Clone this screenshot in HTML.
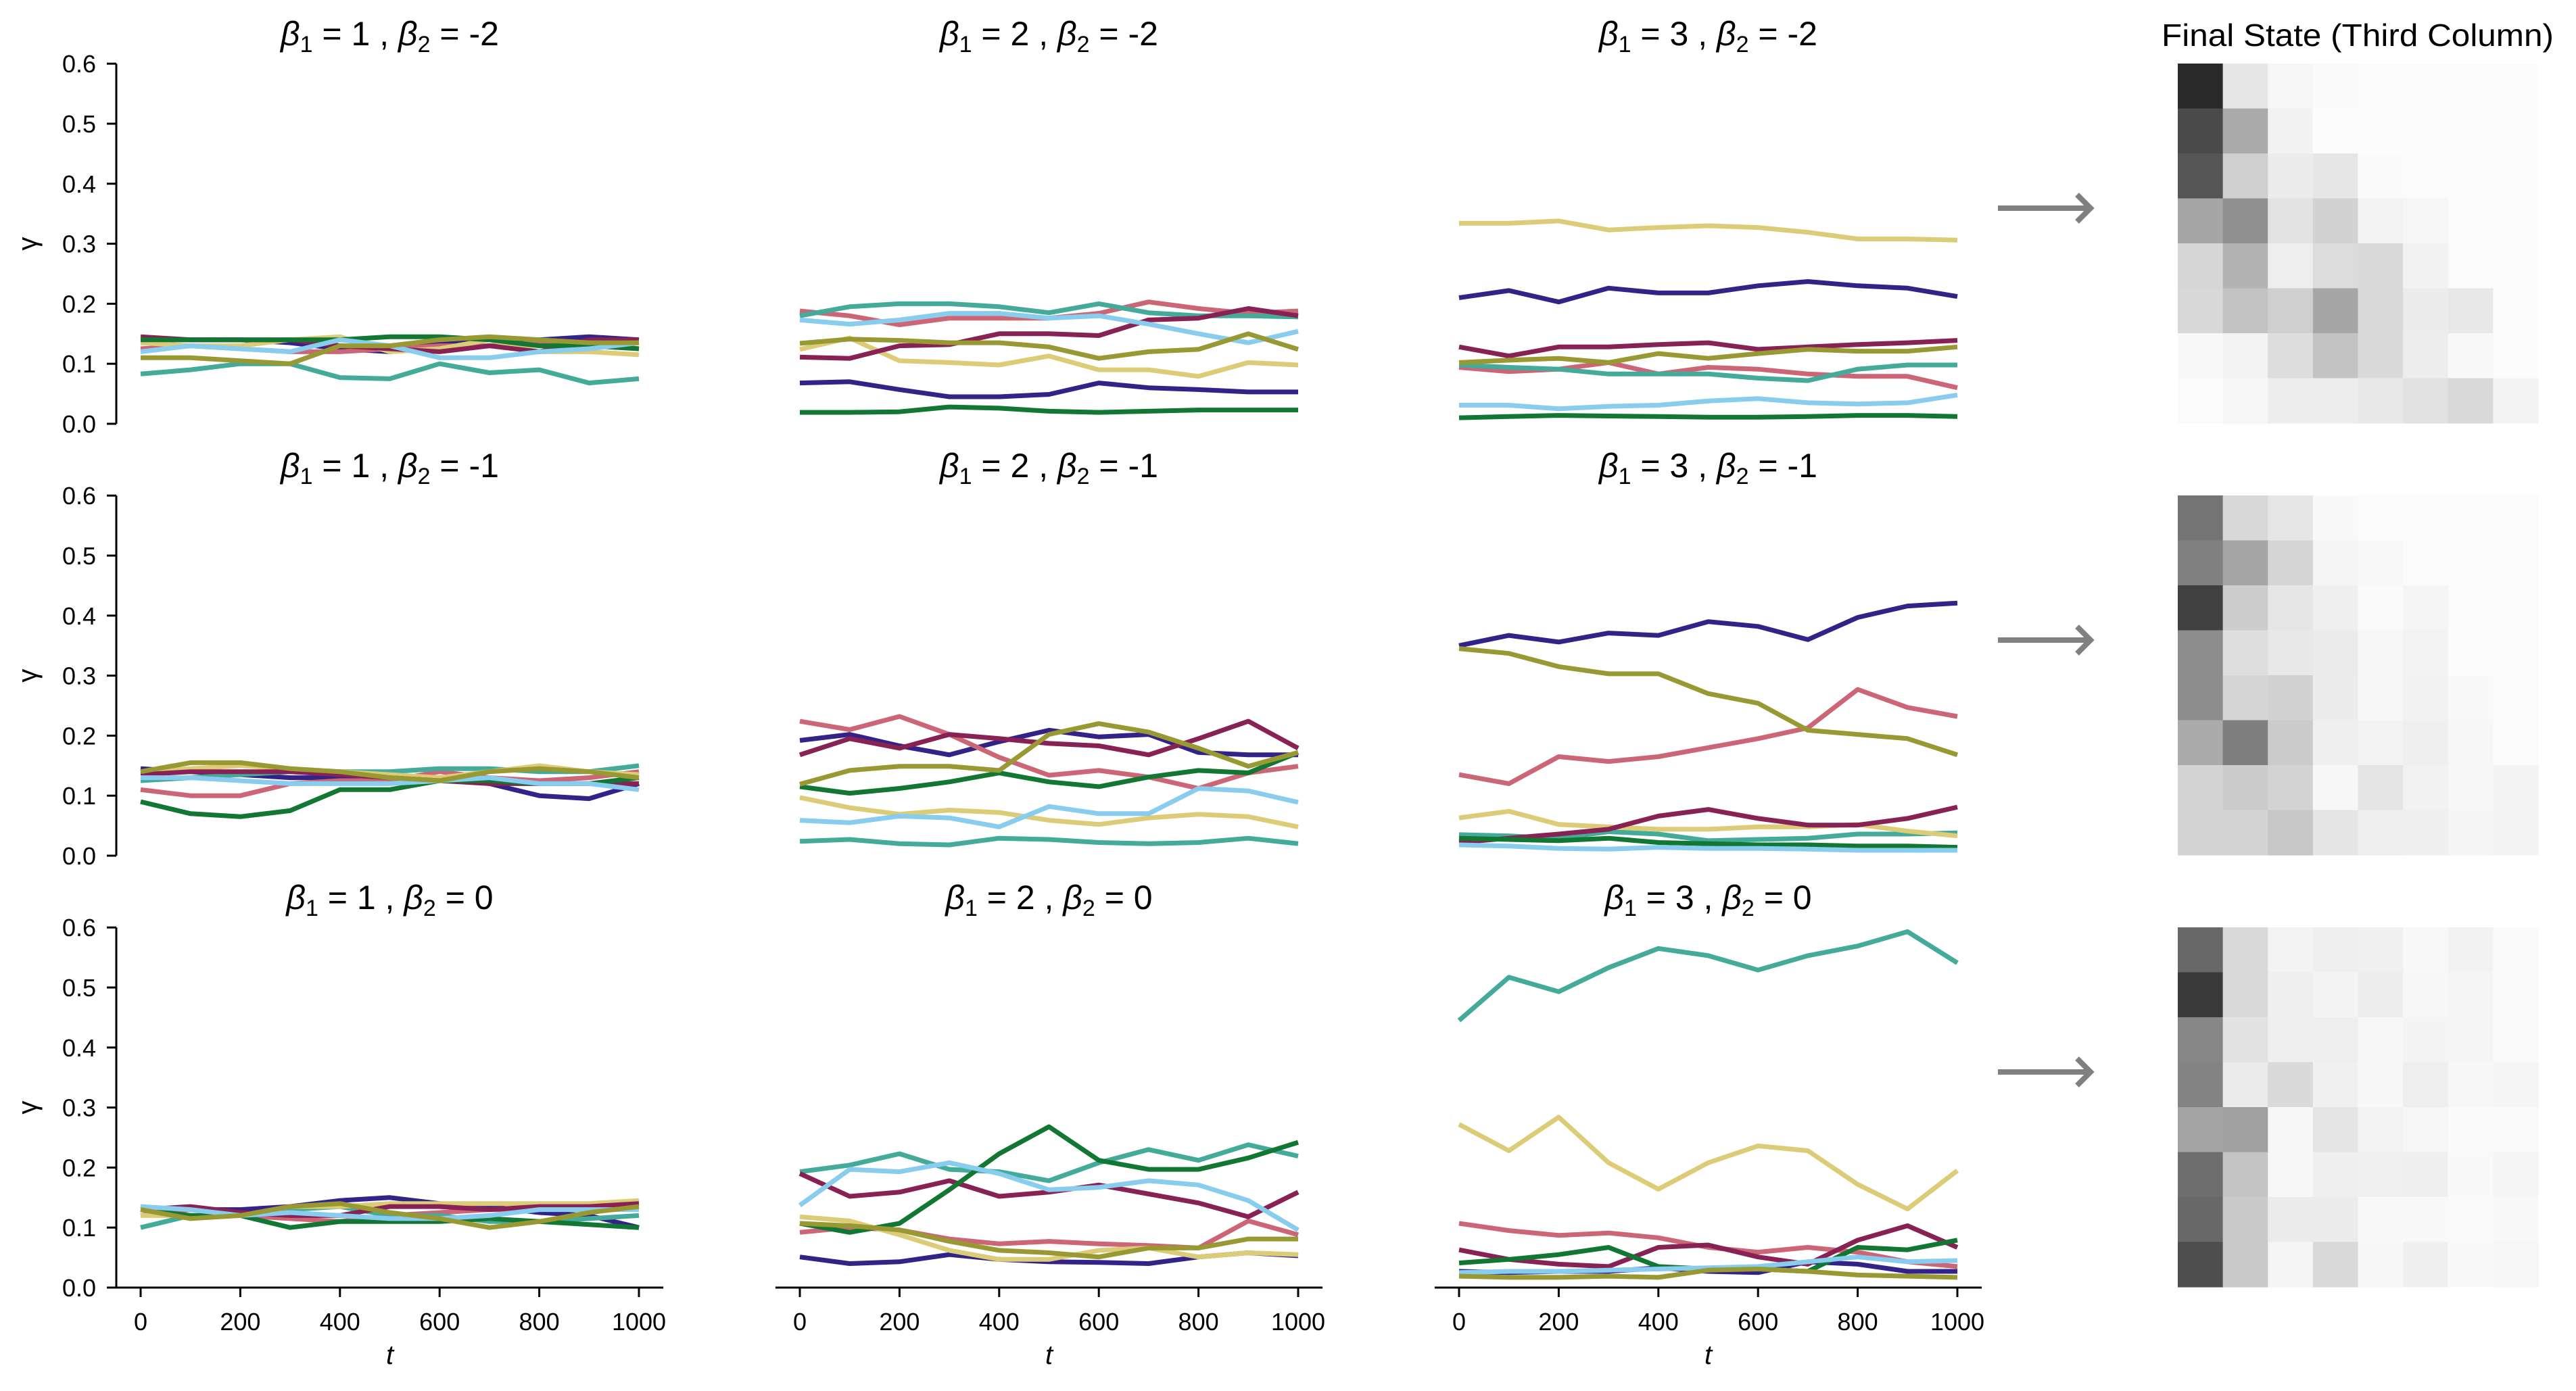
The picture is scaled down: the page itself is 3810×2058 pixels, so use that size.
<!DOCTYPE html>
<html><head><meta charset="utf-8"><style>
html,body{margin:0;padding:0;background:#fff;}
svg{display:block;font-family:"Liberation Sans",Arial,sans-serif;}
</style></head><body>
<svg id="fig" width="3810" height="2058" viewBox="0 0 3810 2058" xmlns="http://www.w3.org/2000/svg"></svg>
<script>
const seriesNames = ['indigo','rose','teal','sand','wine','green','cyan','olive'];
const seriesColors = ['#332288','#CC6677','#44AA99','#DDCC77','#882255','#117733','#88CCEE','#999933'];
const tSteps = [0,100,200,300,400,500,600,700,800,900,1000];
const yTicks = [0.0,0.1,0.2,0.3,0.4,0.5,0.6];
const xTicks = [0,200,400,600,800,1000];
const beta1 = [1,2,3];
const beta2 = [-2,-1,0];
const p00 = [[.14,.14,.14,.135,.125,.12,.135,.14,.14,.145,.14],[.125,.13,.125,.12,.12,.125,.13,.13,.135,.135,.125],[.083,.09,.10,.10,.077,.075,.10,.085,.09,.068,.075],[.135,.13,.13,.14,.145,.12,.125,.14,.12,.12,.115],[.145,.14,.14,.14,.13,.125,.12,.13,.12,.14,.14],[.14,.14,.14,.14,.14,.145,.145,.14,.13,.13,.125],[.12,.13,.125,.12,.14,.13,.11,.11,.12,.125,.135],[.11,.11,.105,.10,.13,.13,.14,.145,.14,.135,.135]];
const p10 = [[.145,.14,.135,.13,.13,.13,.13,.12,.10,.095,.12],[.11,.10,.10,.12,.125,.125,.14,.13,.125,.13,.14],[.125,.13,.135,.14,.14,.14,.145,.145,.14,.14,.15],[.14,.145,.15,.145,.14,.135,.13,.14,.15,.14,.135],[.135,.14,.14,.14,.135,.13,.125,.12,.12,.12,.12],[.09,.07,.065,.075,.11,.11,.125,.125,.12,.12,.13],[.13,.13,.125,.12,.12,.12,.125,.13,.12,.12,.11],[.14,.155,.155,.145,.14,.13,.125,.14,.145,.14,.13]];
const p20 = [[.13,.13,.13,.135,.145,.15,.14,.135,.125,.12,.10],[.12,.13,.12,.115,.11,.12,.125,.13,.13,.135,.14],[.10,.12,.12,.13,.135,.12,.12,.11,.11,.115,.12],[.12,.12,.12,.135,.135,.14,.14,.14,.14,.14,.145],[.13,.135,.125,.12,.12,.135,.135,.13,.135,.135,.14],[.13,.12,.12,.10,.11,.11,.11,.115,.11,.105,.10],[.135,.13,.12,.125,.12,.115,.115,.12,.13,.13,.13],[.13,.115,.12,.135,.14,.125,.115,.10,.11,.125,.135]];
const p01 = [[.068,.07,.057,.045,.045,.049,.068,.06,.057,.053,.053],[.188,.18,.165,.176,.176,.176,.184,.203,.192,.184,.188],[.18,.195,.2,.2,.195,.185,.2,.185,.18,.18,.178],[.124,.143,.105,.102,.098,.113,.09,.09,.079,.102,.098],[.111,.109,.13,.132,.15,.15,.147,.173,.176,.192,.18],[.019,.019,.02,.028,.026,.021,.019,.021,.023,.023,.023],[.173,.166,.173,.184,.184,.176,.18,.166,.15,.135,.154],[.134,.141,.139,.135,.135,.128,.109,.12,.124,.15,.124]];
const p11 = [[.192,.202,.183,.168,.19,.209,.198,.202,.172,.168,.168],[.224,.21,.232,.202,.164,.134,.142,.131,.112,.138,.149],[.024,.027,.02,.018,.029,.027,.022,.02,.022,.029,.02],[.097,.08,.069,.076,.072,.059,.052,.063,.069,.065,.048],[.168,.195,.179,.202,.195,.187,.183,.168,.195,.224,.179],[.115,.104,.112,.123,.138,.123,.115,.131,.142,.138,.172],[.059,.055,.066,.063,.048,.082,.07,.07,.112,.108,.089],[.119,.142,.149,.149,.142,.202,.22,.206,.179,.149,.172]];
const p21 = [[.051,.04,.043,.055,.047,.043,.042,.04,.051,.058,.053],[.092,.1,.096,.081,.073,.077,.073,.07,.066,.111,.088],[.193,.204,.223,.197,.193,.178,.208,.23,.212,.238,.219],[.118,.111,.088,.062,.047,.047,.062,.066,.051,.058,.055],[.19,.152,.159,.178,.152,.159,.171,.156,.141,.118,.159],[.107,.092,.107,.163,.223,.268,.212,.197,.197,.216,.242],[.137,.197,.193,.208,.19,.163,.167,.178,.171,.145,.096],[.107,.103,.096,.077,.062,.058,.051,.066,.066,.081,.081]];
const p02 = [[.21,.222,.203,.226,.218,.218,.23,.237,.23,.226,.212],[.094,.087,.091,.102,.083,.094,.091,.083,.079,.079,.06],[.098,.094,.091,.083,.083,.083,.076,.072,.091,.098,.098],[.334,.334,.338,.323,.327,.33,.327,.319,.308,.308,.306],[.128,.113,.128,.128,.132,.135,.124,.128,.132,.135,.139],[.01,.012,.014,.013,.012,.011,.011,.012,.014,.014,.012],[.031,.031,.025,.029,.031,.038,.042,.035,.033,.035,.048],[.102,.106,.109,.102,.117,.109,.117,.124,.121,.121,.128]];
const p12 = [[.35,.367,.356,.371,.367,.39,.382,.36,.397,.416,.421],[.135,.12,.165,.157,.165,.18,.195,.213,.277,.247,.232],[.035,.033,.029,.04,.036,.025,.027,.029,.036,.036,.038],[.063,.074,.052,.048,.044,.044,.048,.048,.052,.041,.033],[.022,.029,.036,.044,.066,.077,.062,.051,.051,.062,.081],[.029,.027,.025,.029,.022,.02,.018,.018,.016,.016,.014],[.018,.016,.012,.011,.014,.012,.012,.011,.009,.009,.009],[.345,.337,.315,.303,.303,.27,.254,.209,.202,.195,.168]];
const p22 = [[.027,.025,.027,.027,.033,.027,.025,.043,.039,.027,.027],[.107,.095,.087,.091,.083,.067,.059,.067,.059,.043,.035],[.445,.517,.493,.533,.565,.553,.529,.553,.569,.593,.541],[.272,.228,.284,.208,.164,.208,.236,.228,.172,.131,.195],[.063,.047,.039,.035,.067,.071,.051,.039,.079,.103,.067],[.041,.047,.055,.067,.035,.031,.031,.027,.067,.063,.079],[.025,.027,.027,.029,.031,.033,.035,.043,.051,.043,.045],[.019,.017,.017,.019,.017,.029,.031,.027,.021,.019,.017]];
const panels = [[p00,p01,p02],[p10,p11,p12],[p20,p21,p22]];
const hm0 = [[0x2a,0xe6,0xf6,0xfa,0xfc,0xfc,0xfc,0xfc],[0x4a,0xaa,0xf2,0xfc,0xfc,0xfc,0xfc,0xfc],[0x55,0xcf,0xec,0xe6,0xfa,0xfb,0xfc,0xfc],[0xa6,0x90,0xe3,0xd2,0xf3,0xf6,0xfc,0xfc],[0xd6,0xb3,0xee,0xdc,0xd9,0xf2,0xfb,0xfc],[0xd8,0xc2,0xcf,0xa6,0xd9,0xec,0xe8,0xfc],[0xf8,0xf3,0xdd,0xc3,0xda,0xed,0xf8,0xfc],[0xfb,0xf6,0xed,0xed,0xe8,0xe2,0xd9,0xf3]];
const hm1 = [[0x74,0xd8,0xe6,0xf9,0xfb,0xfb,0xfb,0xfb],[0x80,0xa5,0xd5,0xf5,0xf8,0xfb,0xfb,0xfb],[0x40,0xcc,0xe6,0xef,0xfa,0xf5,0xfb,0xfb],[0x8d,0xde,0xe8,0xeb,0xf7,0xf3,0xfb,0xfb],[0x8d,0xd5,0xd2,0xec,0xf7,0xf2,0xf9,0xfb],[0xab,0x7f,0xcb,0xef,0xf3,0xef,0xf7,0xfb],[0xd3,0xcb,0xd3,0xf7,0xe5,0xf2,0xf7,0xf4],[0xd3,0xd3,0xc7,0xe5,0xee,0xef,0xf5,0xf3]];
const hm2 = [[0x68,0xd9,0xf3,0xef,0xf0,0xf8,0xf2,0xfa],[0x3a,0xd9,0xef,0xf3,0xed,0xf7,0xf5,0xfa],[0x86,0xe2,0xef,0xee,0xf7,0xf4,0xf5,0xfa],[0x83,0xeb,0xda,0xf0,0xf7,0xee,0xf7,0xf5],[0xa4,0xa0,0xf7,0xe5,0xf3,0xf6,0xfa,0xfa],[0x6e,0xc4,0xf7,0xef,0xf0,0xef,0xf9,0xf5],[0x68,0xc9,0xeb,0xec,0xf8,0xf9,0xfa,0xf8],[0x4e,0xc9,0xf5,0xd9,0xf7,0xef,0xf9,0xf6]];
const heatmaps = [hm0,hm1,hm2];

const NS='http://www.w3.org/2000/svg';
const svg=document.getElementById('fig');
function mk(tag,attrs,parent){const e=document.createElementNS(NS,tag);for(const k in attrs)e.setAttribute(k,attrs[k]);(parent||svg).appendChild(e);return e;}
const colX0=[208,1183,2158], xScale=737/1000;
const rowY0=[627,1266,1905], yScale=888;
function xPos(c,t){return colX0[c]+t*xScale;}
function yPos(r,v){return rowY0[r]-v*yScale;}

for(let r=0;r<3;r++){
  for(let c=0;c<3;c++){
    const g=mk('g',{});
    
    
    const cx=(xPos(c,0)+xPos(c,1000))/2;
    const title=mk('text',{x:cx,y:rowY0[r]-560,'text-anchor':'middle','font-size':50,fill:'#000'},g);
    
    
    title.innerHTML='<tspan font-style="italic">β</tspan><tspan font-size="34" dy="10">1</tspan><tspan dy="-10"> = '+beta1[c]+' ,  </tspan><tspan font-style="italic">β</tspan><tspan font-size="34" dy="10">2</tspan><tspan dy="-10"> = '+beta2[r]+'</tspan>';
    if(c===0){
      const ax=mk('g',{},g);
      
      
      mk('line',{x1:172,x2:172,y1:yPos(r,0),y2:yPos(r,0.6),stroke:'#000','stroke-width':3},ax);
      yTicks.forEach(v=>{
        mk('line',{x1:158,x2:172,y1:yPos(r,v),y2:yPos(r,v),stroke:'#000','stroke-width':3},ax);
        const tl=mk('text',{x:142,y:yPos(r,v)+13,'text-anchor':'end','font-size':36,fill:'#000'},ax);
        
        
        tl.textContent=v.toFixed(1);
      });
      const yl=mk('text',{x:0,y:0,'text-anchor':'middle','font-size':40,fill:'#000',transform:'translate(54,'+yPos(r,0.3)+') rotate(-90)'},ax);
      
      
      yl.textContent='γ';
    }
    if(r===2){
      const ax=mk('g',{},g);
      
      
      mk('line',{x1:xPos(c,-49),x2:xPos(c,1049),y1:rowY0[r],y2:rowY0[r],stroke:'#000','stroke-width':3},ax);
      xTicks.forEach(t=>{
        mk('line',{x1:xPos(c,t),x2:xPos(c,t),y1:rowY0[r],y2:rowY0[r]+14,stroke:'#000','stroke-width':3},ax);
        const tl=mk('text',{x:xPos(c,t),y:1968,'text-anchor':'middle','font-size':36,fill:'#000'},ax);
        
        
        tl.textContent=t;
      });
      const xl=mk('text',{x:cx,y:2018,'text-anchor':'middle','font-size':40,'font-style':'italic',fill:'#000'},ax);
      
      
      xl.textContent='t';
    }
    const data=panels[r][c];
    data.forEach((vals,i)=>{
      const pts=vals.map((v,k)=>xPos(c,tSteps[k]).toFixed(1)+','+yPos(r,v).toFixed(1)).join(' ');
      const pl=mk('polyline',{points:pts,fill:'none',stroke:seriesColors[i],'stroke-width':7,'stroke-linejoin':'round'},g);
      
      
    });
  }
  const ay=rowY0[r]-319;
  const ag=mk('g',{stroke:'#808080','stroke-width':8,fill:'none'});
  
  
  mk('line',{x1:2955,y1:ay,x2:3090,y2:ay},ag);
  mk('polyline',{points:(3072)+','+(ay-20)+' 3092,'+ay+' '+(3072)+','+(ay+20)},ag);
  const hg=mk('g',{});
  
  
  const top=rowY0[r]-533, cw=533/8, ch=532/8;
  heatmaps[r].forEach((row,ri)=>row.forEach((gv,ci)=>{
    const cell=mk('rect',{x:(3221+ci*cw).toFixed(2),y:(top+ri*ch).toFixed(2),width:(cw+0.6).toFixed(2),height:(ch+0.6).toFixed(2),fill:'rgb('+gv+','+gv+','+gv+')'},hg);
    
    
  }));
}
const ht=mk('text',{x:3487,y:68,'text-anchor':'middle','font-size':46,fill:'#000',textLength:580,lengthAdjust:'spacingAndGlyphs'});


ht.textContent='Final State (Third Column)';
</script>
</body></html>
